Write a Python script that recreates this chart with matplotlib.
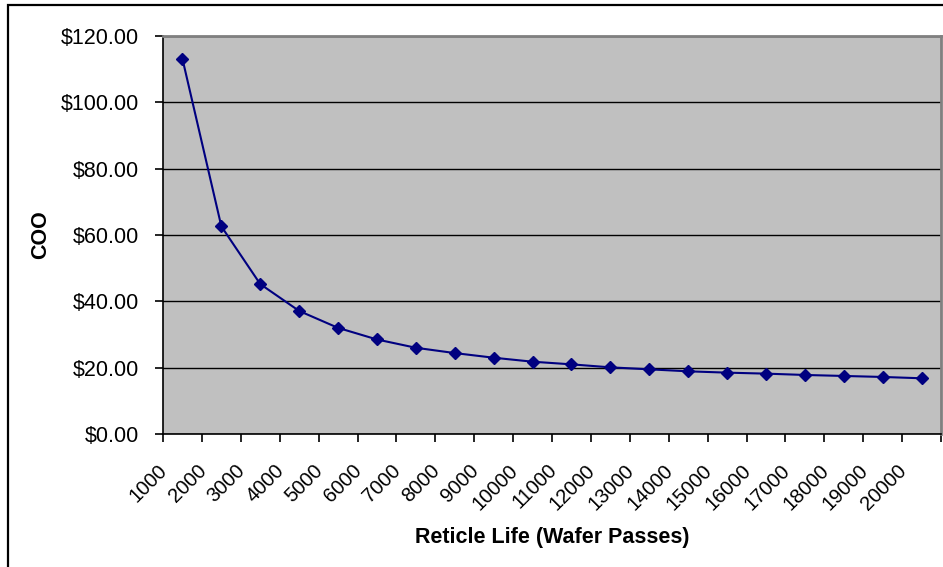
import numpy as np
import matplotlib
matplotlib.use("Agg")
import matplotlib.pyplot as plt
import matplotlib.transforms as mtransforms
from matplotlib.patches import Rectangle
from matplotlib.ticker import FuncFormatter, MultipleLocator

# Reticle life (wafer passes) categories and cost of ownership
passes = [1000, 2000, 3000, 4000, 5000, 6000, 7000, 8000, 9000, 10000,
          11000, 12000, 13000, 14000, 15000, 16000, 17000, 18000, 19000, 20000]
coo = [113.1, 62.6, 45.2, 37.1, 32.0, 28.5, 26.0, 24.4, 23.0, 21.8,
       21.0, 20.1, 19.5, 18.9, 18.5, 18.2, 17.8, 17.5, 17.2, 16.8]

plt.rcParams['font.family'] = ['Liberation Sans', 'DejaVu Sans']

W, H = 943, 567
fig = plt.figure(figsize=(W / 100, H / 100), dpi=100)

# outer chart border (cut off at right/bottom like the screenshot)
fig.patches.append(Rectangle((8 / W, -0.1), 2, 1 - 5 / H + 0.1,
                             transform=fig.transFigure, fill=False,
                             edgecolor='black', linewidth=1.6))

ax = fig.add_axes([163 / W, 1 - 434 / H, (941 - 163) / W, (434 - 36) / H])
ax.set_facecolor('#C0C0C0')

x = np.arange(len(passes))
ax.plot(x, coo, color='#000080', linewidth=1.5, marker='D', markersize=6.5,
        markerfacecolor='#000080', markeredgecolor='#000080', zorder=3)

ax.set_xlim(-0.5, len(passes) - 0.5)
ax.set_ylim(0, 120)
ax.yaxis.set_major_locator(MultipleLocator(20))
ax.yaxis.set_major_formatter(FuncFormatter(lambda v, p: f"${v:.2f}"))
ax.grid(axis='y', color='black', linewidth=1.0)
ax.set_axisbelow(True)

ax.set_xticks(x)
ax.set_xticklabels([str(p) for p in passes], rotation=45, ha='right',
                   va='center', rotation_mode='anchor')
ax.set_xticks(np.arange(-0.5, len(passes)), minor=True)
ax.tick_params(axis='x', which='major', length=0, pad=24, labelsize=14.5)
ax.tick_params(axis='x', which='minor', length=6, width=1.2, direction='out')
ax.tick_params(axis='y', length=6, width=1.2, pad=11, labelsize=15.5)

# nudge rotated labels left, like Excel places them
shift = mtransforms.ScaledTranslation(-18 / 100, 0, fig.dpi_scale_trans)
for lab in ax.get_xticklabels():
    lab.set_transform(lab.get_transform() + shift)

for side in ['left', 'bottom']:
    ax.spines[side].set_color('black')
    ax.spines[side].set_linewidth(1.2)
for side in ['top', 'right']:
    ax.spines[side].set_color('#808080')
    ax.spines[side].set_linewidth(2)

ax.set_xlabel('Reticle Life (Wafer Passes)', fontsize=15.5, fontweight='bold',
              labelpad=10)
ax.set_ylabel('COO', fontsize=15.5, fontweight='bold', labelpad=7)

fig.savefig('out.png', dpi=100)
